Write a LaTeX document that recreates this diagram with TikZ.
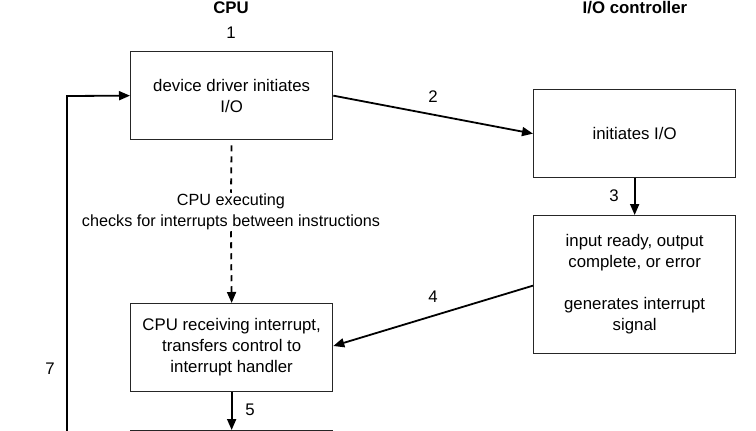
\documentclass[tikz,border=0pt]{standalone}
\usepackage{fontspec}
\setmainfont{Liberation Sans}
\usetikzlibrary{arrows.meta}
\begin{document}
\begin{tikzpicture}[x=1pt,y=-1pt,
  font=\fontsize{16.8}{21}\selectfont,
  box/.style={draw=black!85,line width=1.3pt,minimum width=202pt,minimum height=88pt,inner sep=0pt,align=center,anchor=north west},
  conn/.style={line width=1.8pt,-{Triangle[length=11pt,width=9pt]}},
  lbl/.style={inner sep=0pt}]
\useasboundingbox (0,0) rectangle (756,431);
\clip (0,0) rectangle (756,431);
\node[font=\fontsize{16.8}{21}\selectfont\bfseries] (tcpu) at (231,8) {CPU};
\node[font=\fontsize{16.8}{21}\selectfont\bfseries] (tio) at (635,8) {I/O controller};
\node[box] (b1) at (130,51) {device driver initiates\\I/O};
\node[box] (b2) at (533,89) {initiates I/O};
\node[box,minimum height=138pt] (b3) at (533,215) {input ready, output\\complete, or error\\[21pt]generates interrupt\\signal};
\node[box] (b4) at (130,303) {CPU receiving interrupt,\\transfers control to\\interrupt handler};
\node[box] (b5) at (130,430) {};
\node[align=center,inner sep=1pt,font=\fontsize{16.2}{21}\selectfont] (exec) at (231,212) {CPU executing\\checks for interrupts between instructions};
\coordinate (c7) at (67,470);
\coordinate (c7b) at (67,96);
\node[lbl] (l1) at (231,33) {1};
\node[lbl] (l2) at (433,97) {2};
\node[lbl] (l3) at (614,196) {3};
\node[lbl] (l4) at (433,297) {4};
\node[lbl] (l5) at (250,410) {5};
\node[lbl] (l7) at (50,369) {7};
\draw[conn] (b1.east) -- (b2.west);
\draw[conn] (b2.south) -- (b3.north);
\draw[conn] ([yshift=-1pt]b3.west) -- ([yshift=-43pt]b4.north east);
\draw[conn] (b4.south) -- (b5.north);
\draw[line width=1.8pt,dash pattern=on 6pt off 5pt,shorten <=5pt] (b1.south) -- (exec.north);
\draw[conn,dash pattern=on 6pt off 5pt] (exec.south) -- (b4.north);
\draw[conn] (c7) -- (c7b) -- (b1.west);
\end{tikzpicture}
\end{document}
